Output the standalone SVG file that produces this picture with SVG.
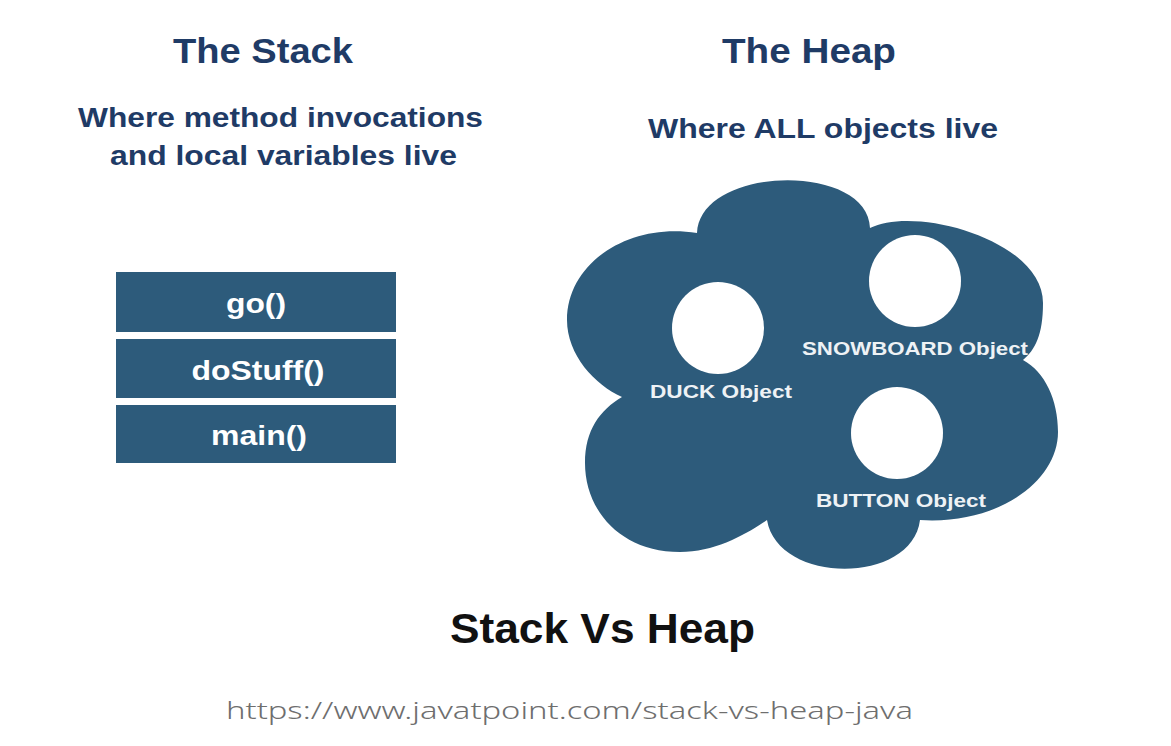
<svg xmlns="http://www.w3.org/2000/svg" width="1171" height="746" viewBox="0 0 1171 746">
<style>
.title{font-family:"Liberation Sans",Arial,sans-serif;font-weight:bold;fill:#1f3b66;}
.box{fill:#2d5b7b;}
.boxtxt{font-family:"Liberation Sans",Arial,sans-serif;font-weight:bold;font-size:28px;fill:#ffffff;}
.objtxt{font-family:"Liberation Sans",Arial,sans-serif;font-weight:bold;font-size:19px;fill:#eef2f5;}
.hole{fill:#ffffff;}
</style>
<rect width="1171" height="746" fill="#ffffff"/>
<g id="stack-title">
<text class="title" x="173" y="63" font-size="35" textLength="180" lengthAdjust="spacingAndGlyphs">The Stack</text>
<text class="title" x="78" y="127" font-size="28" textLength="405" lengthAdjust="spacingAndGlyphs">Where method invocations</text>
<text class="title" x="110" y="165" font-size="28" textLength="347" lengthAdjust="spacingAndGlyphs">and local variables live</text>
</g>
<g id="heap-title">
<text class="title" x="722" y="63" font-size="35" textLength="174" lengthAdjust="spacingAndGlyphs">The Heap</text>
<text class="title" x="648" y="138" font-size="28" textLength="350" lengthAdjust="spacingAndGlyphs">Where ALL objects live</text>
</g>
<g id="frame-go">
<rect class="box" x="116" y="272" width="280" height="60"/>
<text class="boxtxt" x="256" y="313" text-anchor="middle" textLength="60" lengthAdjust="spacingAndGlyphs">go()</text>
</g>
<g id="frame-dostuff">
<rect class="box" x="116" y="339" width="280" height="59"/>
<text class="boxtxt" x="258" y="380" text-anchor="middle" textLength="133" lengthAdjust="spacingAndGlyphs">doStuff()</text>
</g>
<g id="frame-main">
<rect class="box" x="116" y="405" width="280" height="58"/>
<text class="boxtxt" x="259" y="445" text-anchor="middle" textLength="96" lengthAdjust="spacingAndGlyphs">main()</text>
</g>
<g id="heap">
<path fill="#2d5b7b" d="M697,233 C700,165 868,162 870,228 C915,205 1043,240 1043,303 C1043,335 1035,350 1023,360 C1045,372 1058,400 1058,432 C1058,480 1000,525 920,520 C912,585 778,585 767,520 C745,535 715,552 680,552 C620,552 585,510 585,463 C585,430 600,410 622,397 C595,385 567,355 567,320 C567,262 630,222 697,233 Z"/>
</g>
<g id="duck-object">
<circle class="hole" cx="718" cy="328" r="46"/>
<text class="objtxt" x="650" y="398" textLength="142" lengthAdjust="spacingAndGlyphs">DUCK Object</text>
</g>
<g id="snowboard-object">
<circle class="hole" cx="915" cy="281" r="46"/>
<text class="objtxt" x="802" y="355" textLength="226" lengthAdjust="spacingAndGlyphs">SNOWBOARD Object</text>
</g>
<g id="button-object">
<circle class="hole" cx="897" cy="433" r="46"/>
<text class="objtxt" x="816" y="507" textLength="170" lengthAdjust="spacingAndGlyphs">BUTTON Object</text>
</g>
<g id="caption">
<text x="450" y="643" font-family="Liberation Sans, Arial, sans-serif" font-weight="bold" font-size="42" fill="#111111" textLength="305" lengthAdjust="spacingAndGlyphs">Stack Vs Heap</text>
<text x="226" y="719" font-family="Noto Sans, sans-serif" font-weight="300" font-size="23" fill="#6e6e6e" textLength="687" lengthAdjust="spacingAndGlyphs">https://www.javatpoint.com/stack-vs-heap-java</text>
</g>
<g id="connectors"></g>
</svg>
